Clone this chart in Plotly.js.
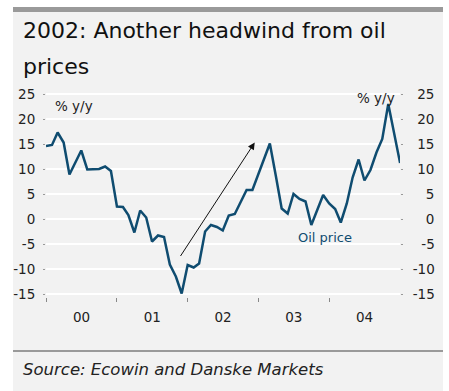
<!DOCTYPE html>
<html>
<head>
<meta charset="utf-8">
<script src="https://cdn.plot.ly/plotly-3.0.1.min.js"></script>
<style>
html,body{margin:0;padding:0;background:#fff;}
#chart{width:449px;height:391px;}
</style>
</head>
<body>
<div id="chart"></div>
<script>
// Monthly dates, Jan 2000 .. Jan 2005
const months = [
  "2000-01-01","2000-02-01","2000-03-01","2000-04-01","2000-05-01","2000-06-01","2000-07-01","2000-08-01","2000-09-01","2000-10-01","2000-11-01","2000-12-01",
  "2001-01-01","2001-02-01","2001-03-01","2001-04-01","2001-05-01","2001-06-01","2001-07-01","2001-08-01","2001-09-01","2001-10-01","2001-11-01","2001-12-01",
  "2002-01-01","2002-02-01","2002-03-01","2002-04-01","2002-05-01","2002-06-01","2002-07-01","2002-08-01","2002-09-01","2002-10-01","2002-11-01","2002-12-01",
  "2003-01-01","2003-02-01","2003-03-01","2003-04-01","2003-05-01","2003-06-01","2003-07-01","2003-08-01","2003-09-01","2003-10-01","2003-11-01","2003-12-01",
  "2004-01-01","2004-02-01","2004-03-01","2004-04-01","2004-05-01","2004-06-01","2004-07-01","2004-08-01","2004-09-01","2004-10-01","2004-11-01","2004-12-01",
  "2005-01-01"
];
// Oil price, % y/y
const oilPrice = [
  14.6, 14.8, 17.3, 15.3, 8.9, 11.3, 13.7, 9.9, 9.9, 10.0, 10.5, 9.6,
  2.5, 2.4, 0.8, -2.7, 1.7, 0.3, -4.5, -3.3, -3.6, -9.1, -11.5, -14.9,
  -9.2, -9.7, -8.9, -2.5, -1.2, -1.6, -2.3, 0.7, 1.0, 3.3, 5.8, 5.8,
  9.1, 12.5, 15.1, 8.6, 2.1, 1.1, 5.0, 4.0, 3.5, -1.2, 1.8, 4.8,
  3.1, 2.0, -0.7, 3.1, 8.3, 11.9, 7.7, 9.8, 13.3, 16.0, 23.0, 17.2,
  11.2
];
const yTickVals = [-15, -10, -5, 0, 5, 10, 15, 20, 25];
const yTickText = ["-15", "-10", "-5", "0", "5", "10", "15", "20", "25"];
// right-hand labels are right-aligned in the original: pad with fixed-width unicode spaces
const FIG = "\u2007", HYP = "\u2004";
const yTickTextRight = [
  "-15", "-10", FIG + "-5", HYP + FIG + "0", HYP + FIG + "5",
  HYP + "10", HYP + "15", HYP + "20", HYP + "25"
];
const titleLine1 = "2002: Another headwind from oil";
const titleLine2 = "prices";
const unitLabel = "% y/y";
const seriesLabel = "Oil price";
const sourceText = "Source: Ecowin and Danske Markets";

// layout geometry helpers (pixel -> paper)
const L = 46, R = 49, T = 91, B = 94, W = 449, H = 391;
const pw = W - L - R, ph = H - T - B;
const xp = px => (px - L) / pw;
const yp = py => (H - B - py) / ph;

const FONT = "DejaVu Sans";
const lineColor = "#0f4c70";
const yRange = [-15.6, 25.6];

const axisY = {
  range: yRange, tickmode: "array", tickvals: yTickVals, ticktext: yTickText,
  showgrid: true, gridcolor: "#ffffff", gridwidth: 2, zeroline: false,
  ticks: "outside", ticklen: 2, tickcolor: "#999", tickwidth: 1,
  showline: false, ticklabelstandoff: 5,
  tickfont: {family: FONT, size: 13.5, color: "#222"}, fixedrange: true
};

const data = [
  {x: months, y: oilPrice, type: "scatter", mode: "lines",
   line: {color: lineColor, width: 2.5}, hoverinfo: "skip", showlegend: false},
  {x: months, y: oilPrice, type: "scatter", mode: "lines", yaxis: "y2",
   line: {color: lineColor, width: 0}, opacity: 0, hoverinfo: "skip", showlegend: false}
];

const layout = {
  width: W, height: H,
  margin: {l: L, r: R, t: T, b: B, pad: 0},
  paper_bgcolor: "#ffffff", plot_bgcolor: "#f2f2f2",
  showlegend: false,
  xaxis: {
    type: "date", range: ["2000-01-01", "2004-12-31 12:00"],
    tickmode: "linear", tick0: "2000-01-01", dtick: "M12", tickformat: "%y",
    ticklabelmode: "period", ticks: "outside", ticklen: 4, tickcolor: "#888",
    showgrid: false, zeroline: false, showline: false, ticklabelstandoff: 4,
    tickfont: {family: FONT, size: 13.5, color: "#222"}, fixedrange: true
  },
  yaxis: Object.assign({side: "left"}, axisY),
  yaxis2: Object.assign({}, axisY, {side: "right", overlaying: "y", showgrid: false,
    ticktext: yTickTextRight, ticklabelstandoff: 7}),
  shapes: [
    {type: "rect", xref: "paper", yref: "paper", x0: xp(13), x1: xp(443), y0: yp(391), y1: yp(7),
     fillcolor: "#f2f2f2", line: {width: 0}, layer: "below"},
    {type: "rect", xref: "paper", yref: "paper", x0: xp(13), x1: xp(443), y0: yp(12), y1: yp(7),
     fillcolor: "#9a9a9a", line: {width: 0}, layer: "below"},
    {type: "line", xref: "paper", yref: "paper", x0: xp(13), x1: xp(443), y0: yp(351), y1: yp(351),
     line: {color: "#9a9a9a", width: 2}, layer: "below"}
  ],
  annotations: [
    {text: titleLine1, xref: "paper", yref: "paper", x: xp(21), y: yp(31), xanchor: "left", yanchor: "middle",
     showarrow: false, font: {family: FONT, size: 22, color: "#111"}},
    {text: titleLine2, xref: "paper", yref: "paper", x: xp(21), y: yp(66), xanchor: "left", yanchor: "middle",
     showarrow: false, font: {family: FONT, size: 22, color: "#111"}},
    {text: unitLabel, xref: "paper", yref: "paper", x: xp(53), y: yp(106), xanchor: "left", yanchor: "middle",
     showarrow: false, font: {family: FONT, size: 13.5, color: "#222"}},
    {text: unitLabel, xref: "paper", yref: "paper", x: xp(397), y: yp(98), xanchor: "right", yanchor: "middle",
     showarrow: false, font: {family: FONT, size: 13.5, color: "#222"}},
    {text: seriesLabel, xref: "x", yref: "y", x: "2003-12-12", y: -3.6, xanchor: "center", yanchor: "middle",
     showarrow: false, font: {family: FONT, size: 13, color: lineColor}},
    {text: "", xref: "x", yref: "y", axref: "x", ayref: "y",
     x: "2002-12-13", y: 15.3, ax: "2001-11-20", ay: -7.7,
     showarrow: true, arrowhead: 2, arrowsize: 1.4, arrowwidth: 1, arrowcolor: "#111", standoff: 0, startstandoff: 0},
    {text: sourceText, xref: "paper", yref: "paper", x: xp(21), y: yp(369), xanchor: "left", yanchor: "middle",
     showarrow: false, font: {family: FONT, size: 16.5, color: "#222", style: "italic"}}
  ]
};

Plotly.newPlot("chart", data, layout, {displayModeBar: false, staticPlot: true});
</script>
</body>
</html>
